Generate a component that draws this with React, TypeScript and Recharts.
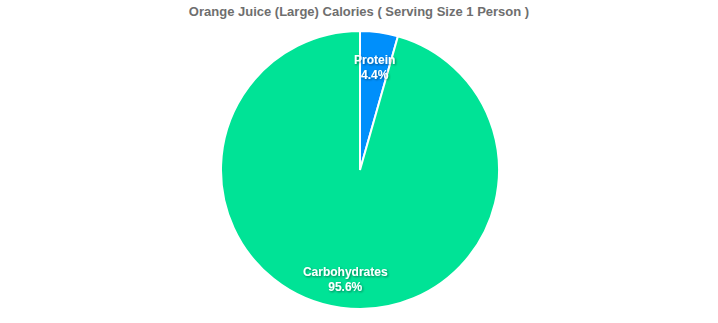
import React from "react";
import { PieChart, Pie, Cell } from "recharts";

const categories = ["Protein", "Carbohydrates"];
const values = [4.4, 95.6];
const colors = ["#008FFB", "#00E396"];
const title = "Orange Juice (Large) Calories ( Serving Size 1 Person )";

const data = categories.map((name, i) => ({ name, value: values[i] }));

const RADIAN = Math.PI / 180;

const renderLabel = (props: any) => {
  const { cx, cy, midAngle, outerRadius, name, percent, index } = props;
  const r = outerRadius * 0.77;
  const x = cx + r * Math.cos(-midAngle * RADIAN);
  const y = cy + r * Math.sin(-midAngle * RADIAN) + 4;
  const style: React.CSSProperties = {
    fontFamily: "'Liberation Sans', Arial, Helvetica, sans-serif",
    fontWeight: 700,
    fontSize: 12,
  };
  return (
    <g key={`lbl-${index}`}>
      <defs>
        <filter id={`ds-${index}`} x="-20%" y="-50%" width="140%" height="200%">
          <feDropShadow dx="1" dy="1" stdDeviation="1" floodColor="#000" floodOpacity="0.45" />
        </filter>
      </defs>
      <text
        x={x}
        y={y}
        textAnchor="middle"
        fill="#fff"
        style={style}
        filter={`url(#ds-${index})`}
      >
        <tspan x={x} dy={-4}>{name}</tspan>
        <tspan x={x} dy={15}>{`${(percent * 100).toFixed(1)}%`}</tspan>
      </text>
    </g>
  );
};

export default function App() {
  return (
    <div style={{ position: "absolute", left: 0, top: 0, width: 718, height: 323, background: "#fff" }}>
      <div
        style={{
          position: "absolute",
          left: 0,
          top: 4,
          width: 718,
          textAlign: "center",
          fontFamily: "'Liberation Sans', Arial, Helvetica, sans-serif",
          fontWeight: 700,
          fontSize: 13,
          color: "#6e6e6e",
        }}
      >
        {title}
      </div>
      <PieChart width={718} height={323} margin={{ top: 0, right: 0, bottom: 0, left: 0 }}>
        <Pie
          data={data}
          dataKey="value"
          nameKey="name"
          cx={360}
          cy={170}
          outerRadius={139}
          innerRadius={0}
          startAngle={90}
          endAngle={-270}
          stroke="#fff"
          strokeWidth={2}
          label={renderLabel}
          labelLine={false}
          isAnimationActive={false}
        >
          {data.map((d, i) => (
            <Cell key={d.name} fill={colors[i]} />
          ))}
        </Pie>
      </PieChart>
    </div>
  );
}
